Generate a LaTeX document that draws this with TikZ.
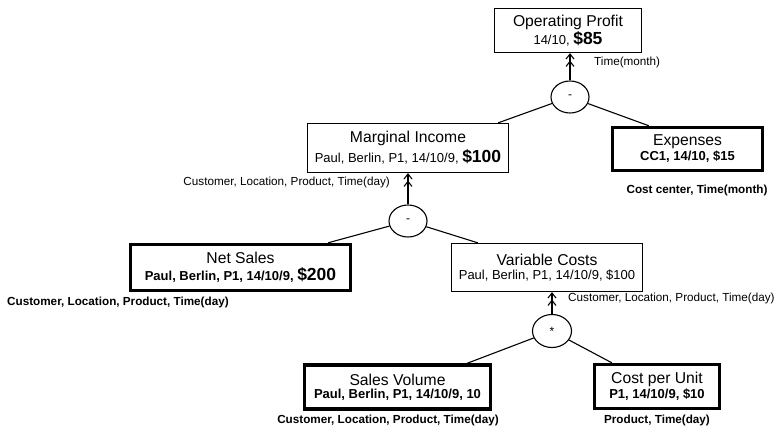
\documentclass[tikz,border=0pt]{standalone}
\usepackage{fontspec}
\setmainfont{Liberation Sans}
\usetikzlibrary{arrows.meta,shapes.geometric}

% font sizes for the measure tree
\newcommand\hdfont{\fontsize{15.7}{18}\selectfont}
\newcommand\dtfont{\fontsize{13}{15}\selectfont}
\newcommand\amtfont{\fontsize{17.5}{18}\selectfont\bfseries}
\newcommand\cpfont{\fontsize{11.7}{14}\selectfont}

\tikzset{
  box/.style={draw, line width=1.3pt, align=center, inner sep=0pt},
  heavybox/.style={box, line width=3.5pt},
  opnode/.style={draw, ellipse, line width=1.1pt, minimum width=38pt,
    minimum height=32pt, inner sep=0pt, font=\fontsize{12}{14}\selectfont},
  link/.style={line width=1.1pt},
  rollup/.style={line width=1.1pt,
    -{Straight Barb[length=5pt,width=8pt,sep=1pt]Straight Barb[length=5pt,width=8pt]}},
  caption/.style={font=\cpfont, inner sep=0pt},
  boldcaption/.style={font=\cpfont\bfseries, inner sep=0pt},
}

\begin{document}
\begin{tikzpicture}[x=1pt, y=-1pt]
\useasboundingbox (0,0) rectangle (781,428);

% measures
\node[box, minimum width=147pt, minimum height=44pt] (op) at (568,30.5)
  {\hdfont Operating Profit\\[1pt]\dtfont 14/10, \amtfont\$85};
\node[box, minimum width=201pt, minimum height=49pt] (mi) at (408,148)
  {\hdfont Marginal Income\\[3pt]\dtfont Paul, Berlin, P1, 14/10/9, \amtfont\$100};
\node[heavybox, minimum width=150pt, minimum height=43pt] (ex) at (687.5,149)
  {\hdfont Expenses\\[1pt]\dtfont\bfseries CC1, 14/10, \$15};
\node[heavybox, minimum width=220pt, minimum height=46pt] (ns) at (240.5,267.5)
  {\hdfont Net Sales\\[3pt]\dtfont\bfseries Paul, Berlin, P1, 14/10/9, \amtfont\$200};
\node[box, minimum width=191pt, minimum height=48pt] (vc) at (547,267.5)
  {\hdfont Variable Costs\\[2pt]\dtfont Paul, Berlin, P1, 14/10/9, \$100};
\node[heavybox, minimum width=186pt, minimum height=44pt] (sv) at (397.5,387)
  {\hdfont Sales Volume\\[1pt]\dtfont\bfseries Paul, Berlin, P1, 14/10/9, 10};
\node[heavybox, minimum width=125pt, minimum height=44pt] (cu) at (657,386.5)
  {\hdfont Cost per Unit\\[1pt]\dtfont\bfseries P1, 14/10/9, \$10};

% operators
\node[opnode] (e1) at (570,97) {-};
\node[opnode] (e2) at (408,221) {-};
\node[opnode, minimum width=39pt, minimum height=33pt] (e3) at (552,331) {*};

% aggregation arrows
\draw[rollup] (e1.north) -- (e1.north |- op.south);
\draw[rollup] (e2.north) -- (e2.north |- mi.south);
\draw[rollup] (e3.north) -- (e3.north |- vc.south);

% operand links
\draw[link] (e1) -- ([xshift=-11pt]mi.north east);
\draw[link] (e1) -- ([xshift=38pt]ex.north west);
\draw[link] (e2) -- ([xshift=-24pt]ns.north east);
\draw[link] (e2) -- ([xshift=27pt]vc.north west);
\draw[link] (e3) -- ([xshift=-25pt]sv.north east);
\draw[link] (e3) -- ([xshift=19pt]cu.north west);

% granularity captions
\node[caption, anchor=west] (c1) at (594,62) {Time(month)};
\node[caption, anchor=east] (c2) at (390,182) {Customer, Location, Product, Time(day)};
\node[boldcaption] (c3) at (697,190) {Cost center, Time(month)};
\node[boldcaption, anchor=west] (c4) at (7,302) {Customer, Location, Product, Time(day)};
\node[caption, anchor=west] (c5) at (568,298) {Customer, Location, Product, Time(day)};
\node[boldcaption] (c6) at (388,420) {Customer, Location, Product, Time(day)};
\node[boldcaption] (c7) at (657,420) {Product, Time(day)};
\end{tikzpicture}
\end{document}
